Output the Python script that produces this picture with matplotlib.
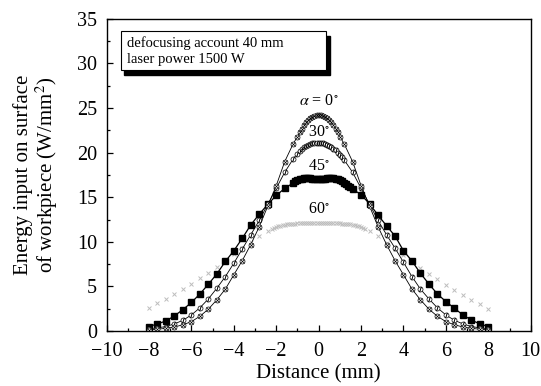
import matplotlib
matplotlib.use("Agg")
import matplotlib.pyplot as plt
from matplotlib.ticker import MultipleLocator
from matplotlib.patches import Rectangle

plt.rcParams['font.family'] = ['Liberation Serif', 'DejaVu Serif']
plt.rcParams['mathtext.fontset'] = 'stix'

# ---- data ----
x_a0 = [-8.0, -7.6, -7.2, -6.8, -6.4, -6.0, -5.6, -5.2, -4.8, -4.4, -4.0, -3.6, -3.2, -2.8, -2.4, -2.0, -1.6, -1.2,
        -1.0, -0.9, -0.8, -0.7, -0.6, -0.5, -0.4, -0.3, -0.2, -0.1, 0.0, 0.1, 0.2, 0.3, 0.4, 0.5, 0.6, 0.7, 0.8, 0.9, 1.0,
        1.2, 1.6, 2.0, 2.4, 2.8, 3.2, 3.6, 4.0, 4.4, 4.8, 5.2, 5.6, 6.0, 6.4, 6.8, 7.2, 7.6, 8.0]
y_a0 = [0.15, 0.2, 0.3, 0.45, 0.7, 1.05, 1.65, 2.45, 3.5, 4.7, 6.3, 7.9, 9.7, 11.7, 14.0, 16.3, 19.0, 21.0,
        21.8, 22.3, 22.7, 23.1, 23.4, 23.7, 23.9, 24.05, 24.15, 24.2, 24.2, 24.2, 24.15, 24.05, 23.9, 23.7, 23.4, 23.1, 22.7, 22.3, 21.8,
        21.0, 19.0, 16.3, 14.0, 11.7, 9.7, 7.9, 6.3, 4.7, 3.5, 2.45, 1.65, 1.05, 0.7, 0.45, 0.3, 0.2, 0.15]

x_a30 = [-8.0, -7.6, -7.2, -6.8, -6.4, -6.0, -5.6, -5.2, -4.8, -4.4, -4.0, -3.6, -3.2, -2.8, -2.4, -2.0, -1.6, -1.2,
         -1.0, -0.9, -0.8, -0.7, -0.6, -0.5, -0.4, -0.3, -0.2, -0.1, 0.0, 0.1, 0.2, 0.3, 0.4, 0.5, 0.6, 0.7, 0.8, 0.9, 1.0, 1.1, 1.2,
         1.6, 2.0, 2.4, 2.8, 3.2, 3.6, 4.0, 4.4, 4.8, 5.2, 5.6, 6.0, 6.4, 6.8, 7.2, 7.6, 8.0]
y_a30 = [0.25, 0.35, 0.5, 0.8, 1.2, 1.8, 2.6, 3.6, 4.8, 6.1, 7.6, 9.2, 10.8, 12.4, 14.2, 16.0, 17.8, 19.3,
         19.9, 20.2, 20.4, 20.6, 20.75, 20.9, 21.0, 21.05, 21.1, 21.1, 21.1, 21.1, 21.05, 21.0, 20.9, 20.8, 20.65, 20.45, 20.25, 20.0, 19.75, 19.5, 19.2,
         17.8, 16.0, 14.2, 12.4, 10.8, 9.3, 7.7, 6.1, 4.7, 3.6, 2.6, 1.8, 1.2, 0.8, 0.5, 0.35, 0.25]

x_a45 = [-8.0, -7.6, -7.2, -6.8, -6.4, -6.0, -5.6, -5.2, -4.8, -4.4, -4.0, -3.6, -3.2, -2.8, -2.4, -2.0, -1.6,
         -1.2, -1.1, -1.0, -0.9, -0.8, -0.7, -0.6, -0.5, -0.4, -0.3, -0.2, -0.1, 0.0, 0.1, 0.2, 0.3, 0.4, 0.5, 0.6, 0.7,
         0.8, 0.9, 1.0, 1.1, 1.2, 1.3, 1.4, 1.5, 1.6,
         2.0, 2.4, 2.8, 3.2, 3.6, 4.0, 4.4, 4.8, 5.2, 5.6, 6.0, 6.4, 6.8, 7.2, 7.6, 8.0]
y_a45 = [0.5, 0.8, 1.12, 1.7, 2.4, 3.2, 4.15, 5.25, 6.4, 7.8, 9.0, 10.4, 11.9, 13.1, 14.2, 15.2, 16.0,
         16.6, 16.8, 16.9, 17.0, 17.1, 17.15, 17.2, 17.2, 17.15, 17.1, 17.0, 17.0, 17.0, 17.0, 17.05, 17.1, 17.15, 17.2, 17.2, 17.15,
         17.1, 17.0, 16.9, 16.8, 16.65, 16.5, 16.3, 16.1, 15.9,
         15.3, 14.25, 13.0, 11.8, 10.66, 9.0, 7.85, 6.47, 5.27, 4.15, 3.3, 2.55, 1.8, 1.23, 0.79, 0.5]

x_a60 = [-8.0, -7.6, -7.2, -6.8, -6.4, -6.0, -5.6, -5.2, -4.8, -4.4, -4.0, -3.6, -3.2, -2.8, -2.4,
         -2.2, -2.1, -2.0, -1.9, -1.8, -1.7, -1.6, -1.5, -1.4, -1.3, -1.2, -1.1, -1.0, -0.9, -0.8, -0.7, -0.6, -0.5,
         -0.4, -0.3, -0.2, -0.1, 0.0, 0.1, 0.2, 0.3, 0.4, 0.5, 0.6, 0.7, 0.8, 0.9, 1.0, 1.1, 1.2, 1.3, 1.4, 1.5,
         1.6, 1.7, 1.8, 1.9, 2.0, 2.1, 2.2,
         2.4, 2.8, 3.2, 3.6, 4.0, 4.4, 4.8, 5.2, 5.6, 6.0, 6.4, 6.8, 7.2, 7.6, 8.0]
y_a60 = [2.6, 3.1, 3.6, 4.1, 4.7, 5.3, 5.9, 6.5, 7.2, 7.9, 8.6, 9.3, 10.0, 10.7, 11.2,
         11.45, 11.55, 11.65, 11.72, 11.8, 11.85, 11.9, 11.95, 12.0, 12.0, 12.05, 12.05, 12.1, 12.1, 12.1, 12.1, 12.1, 12.1,
         12.1, 12.1, 12.1, 12.1, 12.1, 12.1, 12.1, 12.1, 12.1, 12.1, 12.1, 12.1, 12.1, 12.1, 12.1, 12.05, 12.05, 12.0, 12.0, 11.95,
         11.9, 11.85, 11.8, 11.72, 11.65, 11.55, 11.45,
         11.2, 10.6, 9.9, 9.2, 8.5, 7.8, 7.1, 6.4, 5.8, 5.2, 4.6, 4.0, 3.5, 3.0, 2.5]

curve_labels = [r'$\alpha$ = 0$^{\circ}$', '30$^{\circ}$', '45$^{\circ}$', '60$^{\circ}$']
label_pos = [(0.0, 25.8), (0.0, 22.3), (0.0, 18.5), (0.0, 13.7)]
box_text = 'defocusing account 40 mm\nlaser power 1500 W'

# ---- figure ----
fig = plt.figure(figsize=(5.41, 3.86), dpi=100)
ax = fig.add_axes([0.197, 0.1425, 0.784, 0.8085])

# 60 deg: light grey dotted crosses
ax.plot(x_a60, y_a60, linestyle='none', marker='x', ms=3.2, mew=0.7, color='#bdbdbd')
# 45 deg: black squares
ax.plot(x_a45, y_a45, '-', color='black', lw=0.9, marker='s', ms=4.4, mfc='black', mec='black')
# 30 deg: slashed circles
ax.plot(x_a30, y_a30, '-', color='black', lw=0.6, marker='o', ms=3.6, mfc='white', mec='black', mew=0.5)
ax.plot(x_a30, y_a30, linestyle='none', marker=r'$/$', ms=3.6, color='black', mew=0.3)
# 0 deg: crossed circles
ax.plot(x_a0, y_a0, '-', color='black', lw=0.6, marker='o', ms=3.6, mfc='white', mec='black', mew=0.5)
ax.plot(x_a0, y_a0, linestyle='none', marker='x', ms=2.8, color='black', mew=0.5)

for lab, (lx, ly) in zip(curve_labels, label_pos):
    ax.text(lx, ly, lab, ha='center', va='center', fontsize=11.5)

ax.set_xlim(-10, 10)
ax.set_ylim(0, 35)
ax.xaxis.set_major_locator(MultipleLocator(2))
ax.xaxis.set_minor_locator(MultipleLocator(1))
ax.yaxis.set_major_locator(MultipleLocator(5))
ax.yaxis.set_minor_locator(MultipleLocator(2.5))
ax.tick_params(which='both', direction='in', top=False, right=False, labelsize=14.5, width=0.9)
ax.tick_params(axis='y', pad=7)
ax.tick_params(axis='x', pad=8)
ax.tick_params(which='major', length=4)
ax.tick_params(which='minor', length=2.5)
for s in ax.spines.values():
    s.set_linewidth(1.0)

ax.set_xlabel('Distance (mm)', fontsize=15, labelpad=2)
ax.set_ylabel('Energy input on surface\nof workpiece (W/mm$^2$)', fontsize=15, labelpad=12, linespacing=1.05)

# text box with drop shadow (axes coordinates)
bx, by, bw, bh = 0.033, 0.835, 0.485, 0.125
ax.add_patch(Rectangle((bx + 0.009, by - 0.014), bw, bh, transform=ax.transAxes,
                       facecolor='black', edgecolor='black', zorder=4))
ax.add_patch(Rectangle((bx, by), bw, bh, transform=ax.transAxes,
                       facecolor='white', edgecolor='black', lw=0.8, zorder=5))
ax.text(bx + 0.014, by + bh / 2, box_text, transform=ax.transAxes, ha='left', va='center',
        fontsize=10.5, linespacing=1.35, zorder=6)

fig.savefig('out.png', dpi=100)
